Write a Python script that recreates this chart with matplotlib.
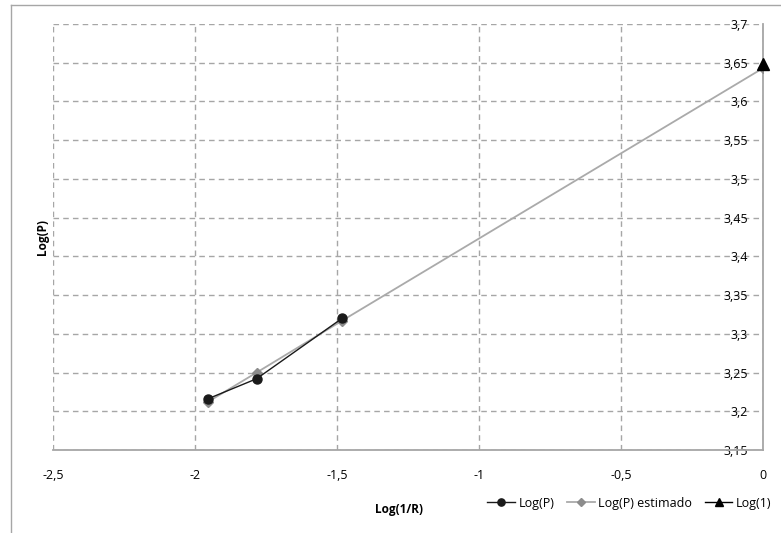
import matplotlib.pyplot as plt
from matplotlib.lines import Line2D
from matplotlib.ticker import MultipleLocator, FuncFormatter

plt.rcParams['font.family'] = ['Open Sans', 'DejaVu Sans']

# data
log_inv_r = [-1.955, -1.783, -1.482]
log_p = [3.216, 3.242, 3.320]
est_x = [-1.955, -1.783, -1.482, 0.0]
log_p_est = [3.212, 3.250, 3.317, 3.643]
log1_x = [0.0]
log1_y = [3.648]

fig = plt.figure(figsize=(7.81, 5.33), dpi=100)
ax = fig.add_axes([53/781, 83/533, 710/781, 426/533])

ax.plot(est_x, log_p_est, '-D', color='#aaaaaa', mfc='#8c8c8c', mec='#8c8c8c',
        ms=5, lw=1.3, label='Log(P) estimado', zorder=3)
ax.plot(log_inv_r, log_p, '-o', color='#1a1a1a', ms=6.5, lw=1.0, label='Log(P)', zorder=4)
ax.plot(log1_x, log1_y, '-^', color='black', ms=8, lw=1.0, label='Log(1)', zorder=5,
        clip_on=False)

ax.set_xlim(-2.5, 0)
ax.set_ylim(3.15, 3.7)
ax.xaxis.set_major_locator(MultipleLocator(0.5))
ax.yaxis.set_major_locator(MultipleLocator(0.05))
fmt = lambda v, p: ('%g' % round(v, 2)).replace('.', ',')
ax.xaxis.set_major_formatter(FuncFormatter(fmt))
ax.yaxis.set_major_formatter(FuncFormatter(fmt))

ax.grid(True, ls=(0, (4, 3)), color='#a6a6a6', lw=1.0)
for s in ['top', 'left']:
    ax.spines[s].set_visible(False)
for s in ['bottom', 'right']:
    ax.spines[s].set_color('#a6a6a6')
    ax.spines[s].set_linewidth(1.3)

ax.yaxis.set_ticks_position('right')
ax.tick_params(axis='y', length=0, pad=-11, labelsize=9)
for lab in ax.get_yticklabels():
    lab.set_horizontalalignment('right')
ax.tick_params(axis='x', length=0, pad=14, labelsize=9)

ax.set_xlabel('Log(1/R)', fontsize=8.5, fontweight='bold')
ax.set_ylabel('Log(P)', fontsize=8.5, fontweight='bold')
ax.yaxis.set_label_position('left')
ax.xaxis.set_label_coords(0.488, -0.125)
ax.yaxis.set_label_coords(-0.006, 0.5)

handles, labels = ax.get_legend_handles_labels()
order = [1, 0, 2]
fig.legend([handles[i] for i in order], [labels[i] for i in order],
           loc='center left', bbox_to_anchor=(480/781, 30/533), ncol=3,
           frameon=False, fontsize=9, handlelength=2.2, handletextpad=0.3,
           columnspacing=1.0, markerscale=0.8, borderaxespad=0.2)

# chart border
fig.add_artist(Line2D([11/781, 11/781], [0, 528/533], color='#a6a6a6', lw=1.0))
fig.add_artist(Line2D([11/781, 1], [528/533, 528/533], color='#a6a6a6', lw=1.0))

fig.savefig('out.png', dpi=100)
